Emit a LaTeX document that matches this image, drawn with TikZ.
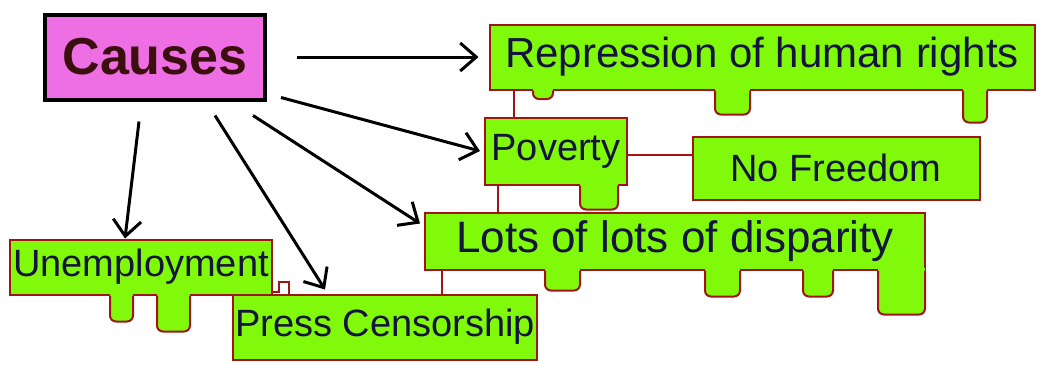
\documentclass[tikz,border=0pt]{standalone}
\usepackage{fontspec}
\setmainfont{Liberation Sans}
\usetikzlibrary{arrows.meta}
\definecolor{pinkfill}{RGB}{238,110,228}
\definecolor{limefill}{RGB}{128,250,10}
\definecolor{rimred}{RGB}{160,20,20}
\definecolor{inkblue}{RGB}{20,20,60}
\definecolor{causeink}{RGB}{60,15,15}
\newcommand{\drip}[4]{%
  \path (#2,0 |- #1.south) coordinate (d1) (#3,0 |- #1.south) coordinate (d2);
  \fill[limefill] ([yshift=1.5pt]d1) rectangle ([yshift=-1pt]d2);
  \filldraw[draw=rimred, fill=limefill, line width=1pt, rounded corners=3pt] (d1) -- ([yshift=-#4pt]d1) -- ([yshift=-#4pt]d2) -- (d2);
}
\tikzstyle{head}=[draw=black, line width=2pt, fill=pinkfill, inner sep=1pt, text=causeink, font=\fontsize{26}{30}\selectfont\bfseries]
\tikzstyle{leaf}=[draw=rimred, line width=1pt, fill=limefill, inner sep=1pt, text=inkblue, font=\fontsize{19}{22}\selectfont]
\tikzstyle{arr}=[-{Straight Barb[length=8pt,width=14pt]}, line width=1.5pt]
\tikzstyle{link}=[draw=rimred, line width=1pt]

\begin{document}
\begin{tikzpicture}[x=0.5pt, y=-0.5pt]
  \useasboundingbox (0,0) rectangle (1040,365);
  \node[head, minimum width=110pt, minimum height=42.5pt] (causes) at (155,57) {Causes};
  \node[leaf, minimum width=272.5pt, minimum height=32.5pt, font=\fontsize{21}{24}\selectfont] (repr) at (762,57) {Repression of human rights};
  \node[leaf, minimum width=71pt, minimum height=33.5pt] (pov) at (556,151) {Poverty};
  \node[leaf, minimum width=143.5pt, minimum height=31.5pt] (nofree) at (836,168) {No Freedom};
  \node[leaf, minimum width=250pt, minimum height=28.5pt, font=\fontsize{22}{25}\selectfont] (lots) at (675,241) {Lots of lots of disparity};
  \node[leaf, minimum width=131pt, minimum height=27.5pt] (unemp) at (141,267) {Unemployment};
  \node[leaf, minimum width=147.5pt, minimum height=32.5pt] (press) at (385,327) {Press Censorship};

  \drip{repr}{533}{553}{4.25}
  \drip{repr}{715}{750}{12}
  \drip{repr}{963}{987}{16}
  \drip{pov}{580}{618}{12}
  \drip{lots}{545}{580}{10}
  \drip{lots}{705}{740}{13}
  \drip{lots}{803}{833}{13}
  \drip{lots}{878}{925}{22}
  \drip{unemp}{110}{133}{13}
  \drip{unemp}{157}{190}{18}

  \coordinate (rp) at ([xshift=12.5pt]repr.south west);
  \coordinate (pl) at ([xshift=7pt]pov.south west);
  \coordinate (lp) at ([xshift=9pt]lots.south west);
  \draw[link] (rp) -- (rp |- pov.north);
  \draw[link] ([yshift=-2pt]pov.east) -- ([yshift=-2pt]pov.east -| nofree.west);
  \draw[link] (pl) -- (pl |- lots.north);
  \draw[link] (lp) -- (lp |- press.north);
  \draw[link] ([yshift=2pt]unemp.south east) -- ++(3pt,0) -- ++(0,5pt) -- ++(5pt,0) -- ++(0,-7pt);

  \draw[arr, shorten <=15pt, shorten >=5pt] (causes) -- (repr);
  \draw[arr] ([shift={(7pt,2pt)}]causes.south east) -- ([shift={(-2pt,0pt)}]pov.west);
  \draw[arr] ([shift={(-7pt,-7pt)}]causes.south east) -- ([shift={(-2pt,-6pt)}]lots.north west);
  \draw[arr] ([shift={(30pt,-7pt)}]causes.south) -- ([shift={(-30pt,2pt)}]press.north);
  \draw[arr] ([shift={(-8pt,-10pt)}]causes.south) -- ([shift={(-8pt,0pt)}]unemp.north);
\end{tikzpicture}
\end{document}
